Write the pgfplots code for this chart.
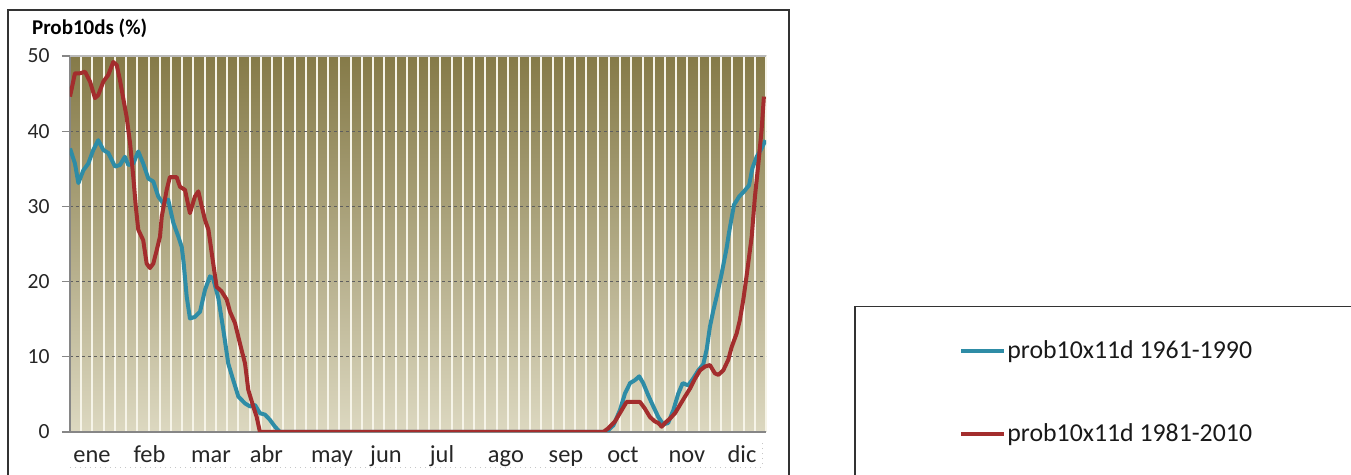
\documentclass[border=0pt]{standalone}
\usepackage{pgfplots}
\pgfplotsset{compat=1.18}
\usepackage{pgfplotstable}
\usepackage{fontspec}
\setmainfont{Carlito}

\definecolor{serieA}{HTML}{2E8CA6}
\definecolor{serieB}{HTML}{A32D2D}
\definecolor{fondoTop}{HTML}{857A48}
\definecolor{fondoBot}{HTML}{DCD8C0}
\definecolor{ejes}{HTML}{868686}
\definecolor{franja}{HTML}{F6F4E8}

% probabilidad (%) por dia del anno, 1961-1990
\pgfplotstableread{
dia prob
0 37.7
2.6 35.7
4.4 33.1
7.0 34.8
9.6 35.7
12.2 37.5
14.8 38.8
17.5 37.5
20.1 37.1
23.6 35.3
26.2 35.5
28.8 36.6
30.6 35.5
33.2 35.7
35.8 37.3
38.4 35.7
41.1 33.7
43.7 33.3
46.3 31.3
48.9 30.4
51.5 30.9
54.2 27.8
56.8 26.0
58.6 24.6
59.6 22.5
61.2 18.0
62.9 15.1
65.5 15.3
68.2 16.0
70.8 18.9
73.4 20.7
75.1 20.4
77.8 17.8
80.4 13.6
83.0 9.1
85.6 6.9
88.3 4.7
91.8 3.8
94.4 3.4
97.0 3.6
99.6 2.5
102.3 2.3
104.9 1.6
107.5 0.7
110.1 0
281.4 0
285.0 0.9
288.4 2.9
291.0 5.1
293.7 6.5
296.3 6.9
298.5 7.4
300.6 6.5
303.2 4.9
305.9 3.4
308.5 2.0
311.1 1.0
313.7 1.2
316.4 2.9
319.0 5.1
321.3 6.5
324.2 6.2
326.8 7.1
329.5 8.2
332.1 9.0
333.9 11.0
335.6 14.0
337.4 16.2
339.1 18.0
341.7 21.0
344.3 24.4
345.6 26.5
347.0 28.5
348.2 30.2
350.9 31.3
353.5 32.0
356.1 32.8
357.9 35.1
360.1 36.6
362.2 37.5
364.8 38.8
}\tablaA

% probabilidad (%) por dia del anno, 1981-2010
\pgfplotstableread{
dia prob
0 44.6
2.6 47.7
5.2 47.7
7.9 47.9
10.5 46.6
13.1 44.4
14.8 44.8
17.5 46.6
20.1 47.5
22.7 49.2
24.5 48.8
26.2 46.8
27.9 44.4
29.7 41.9
31.5 38.4
33.2 33.9
34.5 30.0
35.8 26.9
38.4 25.5
40.2 22.4
41.9 21.8
43.7 22.4
45.5 24.2
47.2 26.0
48.1 28.6
50.7 32.2
52.4 33.9
55.9 33.9
57.7 32.6
60.3 32.2
62.9 29.1
65.5 31.3
67.3 32.0
69.1 30.0
70.8 28.2
72.6 26.9
75.1 22.4
76.9 19.3
79.5 18.7
82.2 17.6
83.9 16.0
86.5 14.5
89.1 11.8
91.8 9.1
93.5 5.6
96.1 3.4
97.9 2.0
99.6 0
279.7 0
282.3 0.5
285.8 1.4
289.3 2.9
291.9 4.0
298.9 4.0
301.5 3.1
304.1 2.0
306.7 1.4
308.5 1.2
310.3 0.7
312.0 1.2
314.7 1.8
317.3 2.5
319.9 3.6
322.5 4.7
325.2 5.8
327.8 7.1
330.4 8.2
333.0 8.7
335.6 8.9
338.2 7.8
340.0 7.6
342.6 8.2
345.2 9.6
347.0 11.3
349.6 13.1
351.3 14.9
353.1 17.6
354.8 20.7
357.5 26.0
359.2 31.3
361.0 35.7
362.7 40.2
363.9 44.6
}\tablaB

\begin{document}
\begin{tikzpicture}
\path[use as bounding box] (0pt,0pt) rectangle (675.5pt,237.5pt);
% marco del grafico y de la leyenda
\draw[line width=0.8pt, black!80] (4pt,-10pt) -- (4pt,232.6pt) -- (394.6pt,232.6pt) -- (394.6pt,-10pt);
\draw[line width=0.8pt, black!80] (427.4pt,-10pt) -- (427.4pt,84.2pt) -- (690pt,84.2pt);
% recuadro de las etiquetas de meses
\draw[gray!45, dotted, line width=0.5pt] (35pt,3.9pt) -- (381pt,3.9pt) -- (381pt,16pt);
\node[anchor=base west, inner sep=0pt, font=\bfseries\fontsize{10.5}{12}\selectfont] at (15.85pt,220.3pt) {Prob10ds (\%)};
\begin{axis}[
  at={(35pt,21.5pt)}, anchor=south west,
  scale only axis, width=348pt, height=188pt,
  xmin=0, xmax=365, ymin=0, ymax=50,
  axis background/.style={top color=fondoTop, bottom color=fondoBot},
  axis x line*=bottom, axis y line*=left,
  axis line style={-, ejes, line width=0.6pt},
  /pgf/number format/assume math mode=true,
  ytick={0,10,...,50},
  ymajorgrids,
  major grid style={ejes!70!black, dash pattern=on 1.5pt off 1.5pt, line width=0.5pt},
  extra y ticks={50}, extra y tick labels={},
  extra y tick style={grid=major, major grid style={solid, gray!55, line width=0.7pt}, tick style={draw=none}},
  minor xtick={5.887,11.774,...,365.1},
  xminorgrids,
  minor grid style={franja, line width=1pt},
  minor tick length=0pt,
  xtick={11.5,41.7,73.9,103.0,137.4,165.7,195.1,228.6,260.1,290.0,323.5,352.4},
  xticklabels={ene,feb,mar,abr,may,jun,jul,ago,sep,oct,nov,dic},
  xtick style={draw=none},
  tick align=outside,
  major tick length=4pt,
  ytick style={ejes, line width=0.6pt},
  yticklabel style={font=\fontsize{10.8}{12}\selectfont, text=black!85, anchor=east, inner sep=0pt, xshift=-6pt},
  xticklabel style={font=\fontsize{12.2}{14}\selectfont, text=black!85, anchor=base, inner sep=0pt, yshift=-11.3pt},
  legend style={at={(1.2773,0.2475)}, anchor=north west, draw=none, fill=none, inner sep=0pt,
    row sep=30.3pt, font=\fontsize{12.9}{15}\selectfont, text=black!90,
    nodes={inner sep=0.5pt}},
  legend cell align=left,
  legend image code/.code={\draw[#1] (0pt,0pt) -- (21.5pt,0pt);},
]
\addplot[serieA, line width=2pt, line join=round, mark=none] table[x=dia, y=prob] {\tablaA};
\addlegendentry{prob10x11d 1961-1990}
\addplot[serieB, line width=2pt, line join=round, mark=none] table[x=dia, y=prob] {\tablaB};
\addlegendentry{prob10x11d 1981-2010}
\end{axis}
\end{tikzpicture}
\end{document}
